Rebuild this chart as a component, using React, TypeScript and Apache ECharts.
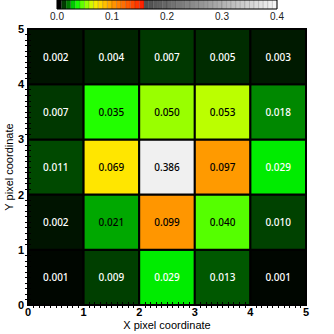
import React, { useEffect, useRef } from "react";
import * as echarts from "echarts";

// Normalized flux per pixel, rows from y=0 (bottom) to y=4 (top), columns x=0..4
const xCells = [0, 1, 2, 3, 4];
const yCells = [0, 1, 2, 3, 4];
const fluxRow0 = [0.001, 0.009, 0.029, 0.013, 0.001];
const fluxRow1 = [0.002, 0.021, 0.099, 0.04, 0.01];
const fluxRow2 = [0.011, 0.069, 0.386, 0.097, 0.029];
const fluxRow3 = [0.007, 0.035, 0.05, 0.053, 0.018];
const fluxRow4 = [0.002, 0.004, 0.007, 0.005, 0.003];
const fluxRows = [fluxRow0, fluxRow1, fluxRow2, fluxRow3, fluxRow4];

const colorbarMax = 0.4;
const colorbarSteps = 48;

// colour map stops [value, r, g, b]
const cmapStops: number[][] = [
  [0.0, 0, 0, 0],
  [0.001, 0, 6, 0],
  [0.002, 0, 20, 0],
  [0.003, 0, 26, 0],
  [0.004, 0, 36, 0],
  [0.005, 0, 44, 0],
  [0.007, 0, 56, 0],
  [0.01, 0, 66, 0],
  [0.013, 0, 88, 0],
  [0.018, 0, 136, 0],
  [0.021, 0, 168, 0],
  [0.029, 0, 236, 0],
  [0.035, 34, 255, 0],
  [0.04, 85, 255, 0],
  [0.05, 153, 255, 0],
  [0.053, 187, 255, 0],
  [0.069, 255, 230, 0],
  [0.097, 255, 154, 0],
  [0.155, 255, 24, 0],
  [0.1551, 76, 76, 76],
  [0.4, 250, 250, 250],
];

function cmap(v: number): string {
  let i = 0;
  while (i < cmapStops.length - 2 && v > cmapStops[i + 1][0]) i++;
  const a = cmapStops[i];
  const b = cmapStops[i + 1];
  const t = Math.max(0, Math.min(1, (v - a[0]) / (b[0] - a[0])));
  const c = [1, 2, 3].map((k) => Math.round(a[k] + (b[k] - a[k]) * t));
  return `rgb(${c[0]},${c[1]},${c[2]})`;
}

const FONT = "'Liberation Sans', Arial, sans-serif";

export default function App() {
  const ref = useRef<HTMLDivElement>(null);
  useEffect(() => {
    if (!ref.current) return;
    const chart = echarts.init(ref.current, null, { renderer: "svg" });

    const cellData: number[][] = [];
    yCells.forEach((y) => {
      xCells.forEach((x) => {
        cellData.push([x, y, fluxRows[y][x]]);
      });
    });

    const stripeData: number[][] = [];
    const step = colorbarMax / colorbarSteps;
    for (let i = 0; i < colorbarSteps; i++) {
      stripeData.push([i * step, (i + 1) * step]);
    }

    const tickAxis = (extra: any) => ({
      type: "value",
      min: 0,
      max: 5,
      interval: 1,
      z: 10,
      nameMoveOverlap: false,
      axisLine: { show: true, lineStyle: { color: "#000", width: 1 } },
      axisTick: { show: false },
      minorTick: { show: true, splitNumber: 10, length: 3, lineStyle: { color: "#000", width: 1 } },
      splitLine: { show: false },
      ...extra,
    });

    chart.setOption({
      animation: false,
      grid: [
        { left: 28, right: 28, top: 29, bottom: 29, containLabel: false, outerBoundsMode: "none" },
        { left: 57, right: 57, top: 0, height: 9, containLabel: false, outerBoundsMode: "none" },
      ],
      xAxis: [
        tickAxis({
          gridIndex: 0,
          position: "bottom",
          name: "X pixel coordinate",
          nameLocation: "middle",
          nameGap: 14,
          nameTextStyle: { fontFamily: FONT, fontSize: 11, color: "#000" },
          axisLabel: {
            show: true,
            margin: 1,
            fontFamily: FONT,
            fontWeight: "bold",
            fontSize: 11,
            color: "#000",
            showMinLabel: true,
            showMaxLabel: true,
          },
        }),
        tickAxis({ gridIndex: 0, position: "top", axisLabel: { show: false } }),
        {
          type: "value",
          gridIndex: 1,
          min: 0,
          max: colorbarMax,
          interval: 0.1,
          position: "bottom",
          name: "Normalized Flux Captured",
          nameLocation: "middle",
          nameGap: 18,
          nameMoveOverlap: false,
          nameTextStyle: { fontFamily: FONT, fontSize: 6, color: "#000" },
          axisLine: { show: false },
          axisTick: { show: false },
          splitLine: { show: false },
          axisLabel: {
            margin: 2,
            fontFamily: FONT,
            fontSize: 10,
            color: "#222",
            formatter: (v: number) => v.toFixed(1),
          },
        },
      ],
      yAxis: [
        tickAxis({
          gridIndex: 0,
          position: "left",
          name: "Y pixel coordinate",
          nameLocation: "middle",
          nameGap: 14,
          nameTextStyle: { fontFamily: FONT, fontSize: 11, color: "#000" },
          axisLabel: {
            show: true,
            margin: 4,
            fontFamily: FONT,
            fontWeight: "bold",
            fontSize: 11,
            color: "#000",
          },
        }),
        tickAxis({ gridIndex: 0, position: "right", axisLabel: { show: false } }),
        {
          type: "value",
          gridIndex: 1,
          min: 0,
          max: 1,
          show: false,
        },
      ],
      series: [
        {
          type: "custom",
          xAxisIndex: 0,
          yAxisIndex: 0,
          z: 2,
          data: cellData,
          renderItem: (params: any, api: any) => {
            const x = api.value(0);
            const y = api.value(1);
            const v = api.value(2);
            const p0 = api.coord([x, y + 1]);
            const p1 = api.coord([x + 1, y]);
            const inner = x >= 1 && x <= 3 && y >= 1 && y <= 3;
            return {
              type: "group",
              children: [
                {
                  type: "rect",
                  shape: { x: p0[0], y: p0[1], width: p1[0] - p0[0], height: p1[1] - p0[1] },
                  style: { fill: cmap(v), stroke: "#000", lineWidth: 2 },
                },
                {
                  type: "text",
                  z2: 5,
                  style: {
                    x: (p0[0] + p1[0]) / 2,
                    y: (p0[1] + p1[1]) / 2,
                    text: v.toFixed(3),
                    align: "center",
                    verticalAlign: "middle",
                    fill: inner ? "#000" : "#fff",
                    font: "500 10px 'Noto Sans', sans-serif",
                  },
                },
              ],
            };
          },
        },
        {
          type: "custom",
          xAxisIndex: 2,
          yAxisIndex: 2,
          data: stripeData,
          renderItem: (params: any, api: any) => {
            const a = api.value(0);
            const b = api.value(1);
            const p0 = api.coord([a, 1]);
            const p1 = api.coord([b, 0]);
            return {
              type: "rect",
              shape: { x: p0[0], y: p0[1], width: p1[0] - p0[0], height: p1[1] - p0[1] },
              style: { fill: cmap(a), stroke: "rgba(0,0,0,0.25)", lineWidth: 0.5 },
            };
          },
        },
      ],
      graphic: [
        {
          type: "rect",
          shape: { x: 57, y: 0, width: 220, height: 9 },
          style: { fill: "none", stroke: "#000", lineWidth: 1 },
          z: 20,
        },
      ],
    });
    return () => chart.dispose();
  }, []);
  return <div ref={ref} style={{ width: 334, height: 334, position: "absolute", left: 0, top: 0 }} />;
}
